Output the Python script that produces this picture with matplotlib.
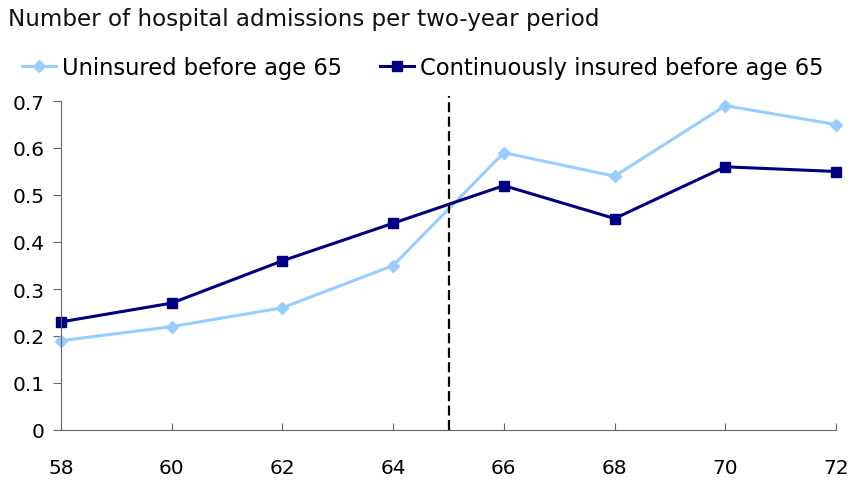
import matplotlib.pyplot as plt

ages = [58, 60, 62, 64, 66, 68, 70, 72]
uninsured = [0.19, 0.22, 0.26, 0.35, 0.59, 0.54, 0.69, 0.65]
insured = [0.23, 0.27, 0.36, 0.44, 0.52, 0.45, 0.56, 0.55]
y_ticks = [0, 0.1, 0.2, 0.3, 0.4, 0.5, 0.6, 0.7]
y_labels = ['0', '0.1', '0.2', '0.3', '0.4', '0.5', '0.6', '0.7']
cutoff_age = 65

fig = plt.figure(figsize=(8.52, 4.81), dpi=100)
ax = fig.add_axes([61/852, 50/481, 775/852, 329/481])

ax.plot(ages, uninsured, color='#99CCFF', linewidth=2.2, marker='D',
        markersize=6, label='Uninsured before age 65', clip_on=False)
ax.plot(ages, insured, color='#000080', linewidth=2.2, marker='s',
        markersize=7, label='Continuously insured before age 65', clip_on=False)
ax.plot([cutoff_age, cutoff_age], [0, 0.71], color='black',
        linestyle=(0, (4.5, 2)), linewidth=1.6, clip_on=False)

ax.set_xlim(58, 72)
ax.set_ylim(0, 0.7)
ax.set_xticks(ages)
ax.set_yticks(y_ticks)
ax.set_yticklabels(y_labels)
ax.tick_params(axis='x', direction='in', length=5, pad=20, labelsize=14.5,
               color='#666666')
ax.tick_params(axis='y', direction='out', length=6, pad=6, labelsize=14.5,
               color='#666666')
for s in ['top', 'right']:
    ax.spines[s].set_visible(False)
for s in ['left', 'bottom']:
    ax.spines[s].set_color('#666666')

fig.text(8/852, 1 - 26/481, 'Number of hospital admissions per two-year period',
         fontsize=16.6, va='baseline', ha='left', color='#111111')
fig.legend(loc='center left', bbox_to_anchor=(22/852, 1 - 68/481), ncol=2,
           frameon=False, fontsize=16.3, handlelength=1.5, handletextpad=0.25,
           columnspacing=1.7, borderaxespad=0, borderpad=0)

plt.savefig('out.png', dpi=100)
